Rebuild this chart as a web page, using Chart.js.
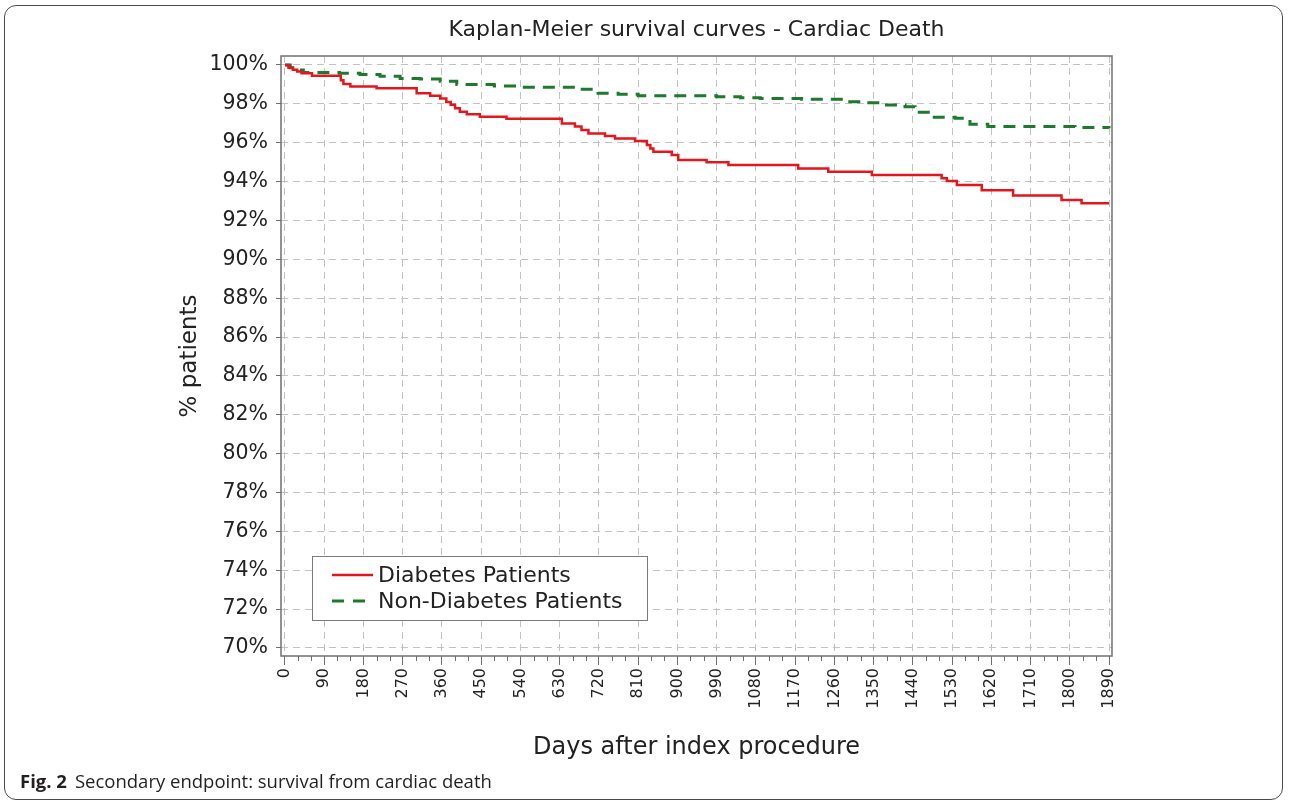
<!DOCTYPE html>
<html>
<head>
<meta charset="utf-8">
<script src="https://cdn.jsdelivr.net/npm/chart.js@4.4.1/dist/chart.umd.min.js"></script>
<style>
  html, body { margin: 0; padding: 0; background: #ffffff; }
  body { width: 1290px; height: 805px; position: relative; overflow: hidden; }
  #frame { position: absolute; left: 4px; top: 5px; width: 1279px; height: 795px;
           border: 1.5px solid #4a4a4a; border-radius: 12px; box-sizing: border-box; }
  #chart { position: absolute; left: 0; top: 0; }
  #caption { position: absolute; left: 20px; top: 768px; font-family: "Open Sans", "Noto Sans", sans-serif;
             font-size: 18.5px; color: #231f20; white-space: nowrap; }
  #caption b { font-weight: 700; margin-right: 8px; }
</style>
</head>
<body>
<div id="frame"></div>
<canvas id="chart" width="1290" height="805"></canvas>
<div id="caption"><b>Fig. 2</b>Secondary endpoint: survival from cardiac death</div>
<script>
// ---- Data ----
const xTickLabels = ["0","90","180","270","360","450","540","630","720","810","900","990","1080","1170","1260","1350","1440","1530","1620","1710","1800","1890"];
const xTickValues = [0,90,180,270,360,450,540,630,720,810,900,990,1080,1170,1260,1350,1440,1530,1620,1710,1800,1890];
const yTickValues = [70,72,74,76,78,80,82,84,86,88,90,92,94,96,98,100];

const seriesNames = ["Diabetes Patients", "Non-Diabetes Patients"];

const diabetesDays = [0,8,18,28,38,62,128,134,150,210,302,333,356,370,380,390,401,417,447,508,635,665,680,696,734,757,803,830,838,845,887,902,967,1017,1177,1246,1346,1506,1518,1541,1598,1670,1781,1827,1890];
const diabetesSurvival = [100,99.86,99.76,99.66,99.58,99.45,99.22,99.02,98.89,98.80,98.54,98.42,98.28,98.1,97.95,97.78,97.60,97.46,97.34,97.24,96.99,96.83,96.65,96.48,96.34,96.22,96.09,95.88,95.7,95.53,95.37,95.11,94.99,94.86,94.68,94.51,94.34,94.17,94.03,93.82,93.56,93.28,93.05,92.88,92.88];

const nonDiabetesDays = [0,12,30,42,125,172,218,264,310,356,394,480,534,676,718,764,810,990,1045,1090,1185,1289,1320,1372,1422,1445,1484,1537,1571,1612,1812,1890];
const nonDiabetesSurvival = [100,99.86,99.74,99.61,99.58,99.51,99.42,99.31,99.28,99.17,99.0,98.92,98.86,98.75,98.54,98.49,98.42,98.37,98.32,98.28,98.24,98.11,98.06,97.94,97.85,97.57,97.31,97.26,96.95,96.83,96.78,96.75];

const toPoints = (xs, ys) => xs.map((x, i) => ({ x: x, y: ys[i] }));

// ---- Plugins: plot frame, minor x ticks, boxed legend ----
const framePlugin = {
  id: 'frameAndMinor',
  afterDraw(chart) {
    const { ctx, chartArea } = chart;
    const xs = chart.scales.x;
    ctx.save();
    ctx.setLineDash([]);
    ctx.strokeStyle = '#6f6f6f';
    ctx.lineWidth = 1;
    for (let d = 30; d < 1890; d += 30) {
      if (d % 90 === 0) continue;
      const px = Math.round(xs.getPixelForValue(d)) + 0.5;
      ctx.beginPath();
      ctx.moveTo(px, chartArea.bottom);
      ctx.lineTo(px, chartArea.bottom + 5);
      ctx.stroke();
    }
    ctx.strokeStyle = '#707070';
    ctx.lineWidth = 1.5;
    ctx.strokeRect(chartArea.left, chartArea.top, chartArea.right - chartArea.left, chartArea.bottom - chartArea.top);
    ctx.restore();
  }
};

const legendPlugin = {
  id: 'boxLegend',
  afterDraw(chart) {
    const { ctx, chartArea } = chart;
    const x = chartArea.left + 31, y = chartArea.top + 500, w = 335, h = 64;
    ctx.save();
    ctx.fillStyle = '#ffffff';
    ctx.fillRect(x, y, w, h);
    ctx.strokeStyle = '#7a7a7a';
    ctx.lineWidth = 1;
    ctx.strokeRect(x + 0.5, y + 0.5, w, h);
    chart.data.datasets.forEach((ds, i) => {
      const cy = y + 19 + i * 26;
      ctx.strokeStyle = ds.borderColor;
      ctx.lineWidth = ds.borderWidth;
      ctx.setLineDash(i === 1 ? [12, 9] : []);
      ctx.beginPath();
      ctx.moveTo(x + 20, cy);
      ctx.lineTo(x + 61, cy);
      ctx.stroke();
      ctx.setLineDash([]);
      ctx.fillStyle = '#222222';
      ctx.font = '22px "DejaVu Sans"';
      ctx.textBaseline = 'middle';
      ctx.textAlign = 'left';
      ctx.fillText(ds.label, x + 66, cy + 1);
    });
    ctx.restore();
  }
};

Chart.defaults.font.family = '"DejaVu Sans", Verdana, sans-serif';
Chart.defaults.color = '#222222';

new Chart(document.getElementById('chart'), {
  type: 'line',
  data: {
    datasets: [
      {
        label: seriesNames[0],
        data: toPoints(diabetesDays, diabetesSurvival),
        borderColor: '#e3151d',
        borderWidth: 2.5,
        stepped: 'before',
        pointRadius: 0,
        fill: false
      },
      {
        label: seriesNames[1],
        data: toPoints(nonDiabetesDays, nonDiabetesSurvival),
        borderColor: '#1d7a2c',
        borderWidth: 3,
        borderDash: [12, 8],
        stepped: 'before',
        pointRadius: 0,
        fill: false
      }
    ]
  },
  options: {
    responsive: false,
    animation: false,
    devicePixelRatio: 1,
    layout: { autoPadding: false, padding: { left: 176, right: 178, top: 10, bottom: 43 } },
    plugins: {
      legend: { display: false },
      tooltip: { enabled: false },
      title: {
        display: true,
        fullSize: false,
        text: 'Kaplan-Meier survival curves - Cardiac Death',
        font: { size: 22, weight: 'normal' },
        color: '#222222',
        padding: { top: 7, bottom: 12.6 }
      }
    },
    scales: {
      x: {
        type: 'linear',
        min: -9.17,
        max: 1896.8,
        afterFit(scale) { scale.height = 106; },
        afterBuildTicks(scale) { scale.ticks = xTickValues.map(v => ({ value: v })); },
        ticks: {
          autoSkip: false,
          minRotation: 90,
          maxRotation: 90,
          padding: 3,
          font: { size: 16 },
          color: '#222222',
          callback: (v, i) => xTickLabels[i]
        },
        grid: { color: '#c2c2c2', lineWidth: 1, tickLength: 9, tickColor: '#6f6f6f', tickBorderDash: [] },
        border: { display: false, dash: [7, 5] },
        title: {
          display: true,
          text: 'Days after index procedure',
          font: { size: 24 },
          color: '#222222',
          padding: { top: 0, bottom: 0 }
        }
      },
      y: {
        type: 'linear',
        min: 69.588,
        max: 100.463,
        afterFit(scale) { scale.width = 105; },
        afterBuildTicks(scale) { scale.ticks = yTickValues.map(v => ({ value: v })); },
        ticks: {
          padding: 8,
          font: { size: 20.5 },
          color: '#222222',
          callback: (v) => v + '%'
        },
        grid: { color: '#c2c2c2', lineWidth: 1, tickLength: 5, tickColor: '#6f6f6f', tickBorderDash: [] },
        border: { display: false, dash: [7, 5] },
        title: {
          display: true,
          text: '% patients',
          font: { size: 23 },
          color: '#222222',
          padding: { top: 0, bottom: 0 }
        }
      }
    }
  },
  plugins: [framePlugin, legendPlugin]
});
</script>
</body>
</html>
